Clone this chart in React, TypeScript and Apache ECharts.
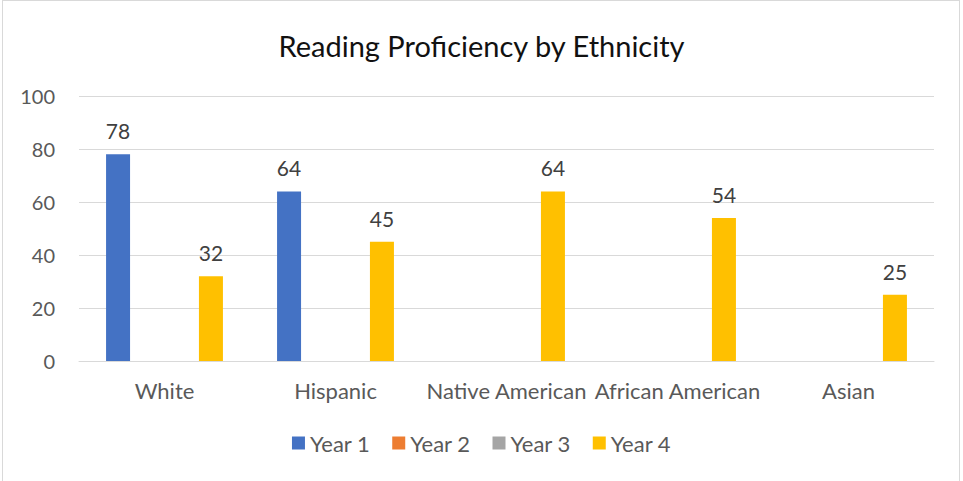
import React, { useEffect, useRef } from "react";
import * as echarts from "echarts";

const categories = ["White", "Hispanic", "Native American", "African American", "Asian"];
const seriesNames = ["Year 1", "Year 2", "Year 3", "Year 4"];
const year1 = [78, 64, null, null, null];
const year2 = [null, null, null, null, null];
const year3 = [null, null, null, null, null];
const year4 = [32, 45, 64, 54, 25];
const colors = ["#4472C4", "#ED7D31", "#A5A5A5", "#FFC000"];
const yTicks = { min: 0, max: 100, interval: 20 };

const FONT = "Lato, 'Open Sans', sans-serif";

export default function App() {
  const ref = useRef<HTMLDivElement>(null);
  useEffect(() => {
    if (!ref.current) return;
    const chart = echarts.init(ref.current, undefined, { renderer: "svg" });
    const data = [year1, year2, year3, year4];
    chart.setOption({
      animation: false,
      textStyle: { fontFamily: FONT },
      title: {
        text: "Reading Proficiency by Ethnicity",
        left: "center",
        top: 26,
        textStyle: { fontFamily: FONT, fontSize: 29, fontWeight: "normal", color: "#111111" },
      },
      legend: {
        bottom: 22,
        left: "center",
        itemWidth: 13,
        itemHeight: 13,
        itemGap: 22,
        icon: "rect",
        textStyle: { fontFamily: FONT, fontSize: 22, color: "#595959" },
        data: seriesNames,
      },
      grid: { left: 79, right: 29, top: 96, bottom: 120 },
      xAxis: {
        type: "category",
        data: categories,
        axisLine: { lineStyle: { color: "#d9d9d9", width: 1 } },
        axisTick: { show: false },
        axisLabel: { fontFamily: FONT, fontSize: 22, color: "#595959", margin: 18, interval: 0 },
      },
      yAxis: {
        type: "value",
        min: yTicks.min,
        max: yTicks.max,
        interval: yTicks.interval,
        axisLine: { show: false },
        axisTick: { show: false },
        splitLine: { lineStyle: { color: "#d9d9d9", width: 1 } },
        axisLabel: { fontFamily: FONT, fontSize: 20, color: "#595959", margin: 24 },
      },
      series: seriesNames.map((name, i) => ({
        name,
        type: "bar",
        data: data[i],
        barWidth: 24,
        barGap: "29%",
        itemStyle: { color: colors[i] },
        label: {
          show: true,
          position: "top",
          distance: 13,
          fontFamily: FONT,
          fontSize: 21,
          color: "#404040",
        },
      })),
    });
    return () => chart.dispose();
  }, []);
  return (
    <div
      style={{
        position: "fixed",
        left: 0,
        top: 0,
        width: 963,
        height: 481,
        background: "#fff",
      }}
    >
      <div
        style={{
          position: "absolute",
          left: 2,
          top: 0,
          width: 958,
          height: 490,
          border: "1px solid #d9d9d9",
          boxSizing: "border-box",
        }}
      />
      <div ref={ref} style={{ position: "absolute", left: 0, top: 0, width: 963, height: 481 }} />
    </div>
  );
}
